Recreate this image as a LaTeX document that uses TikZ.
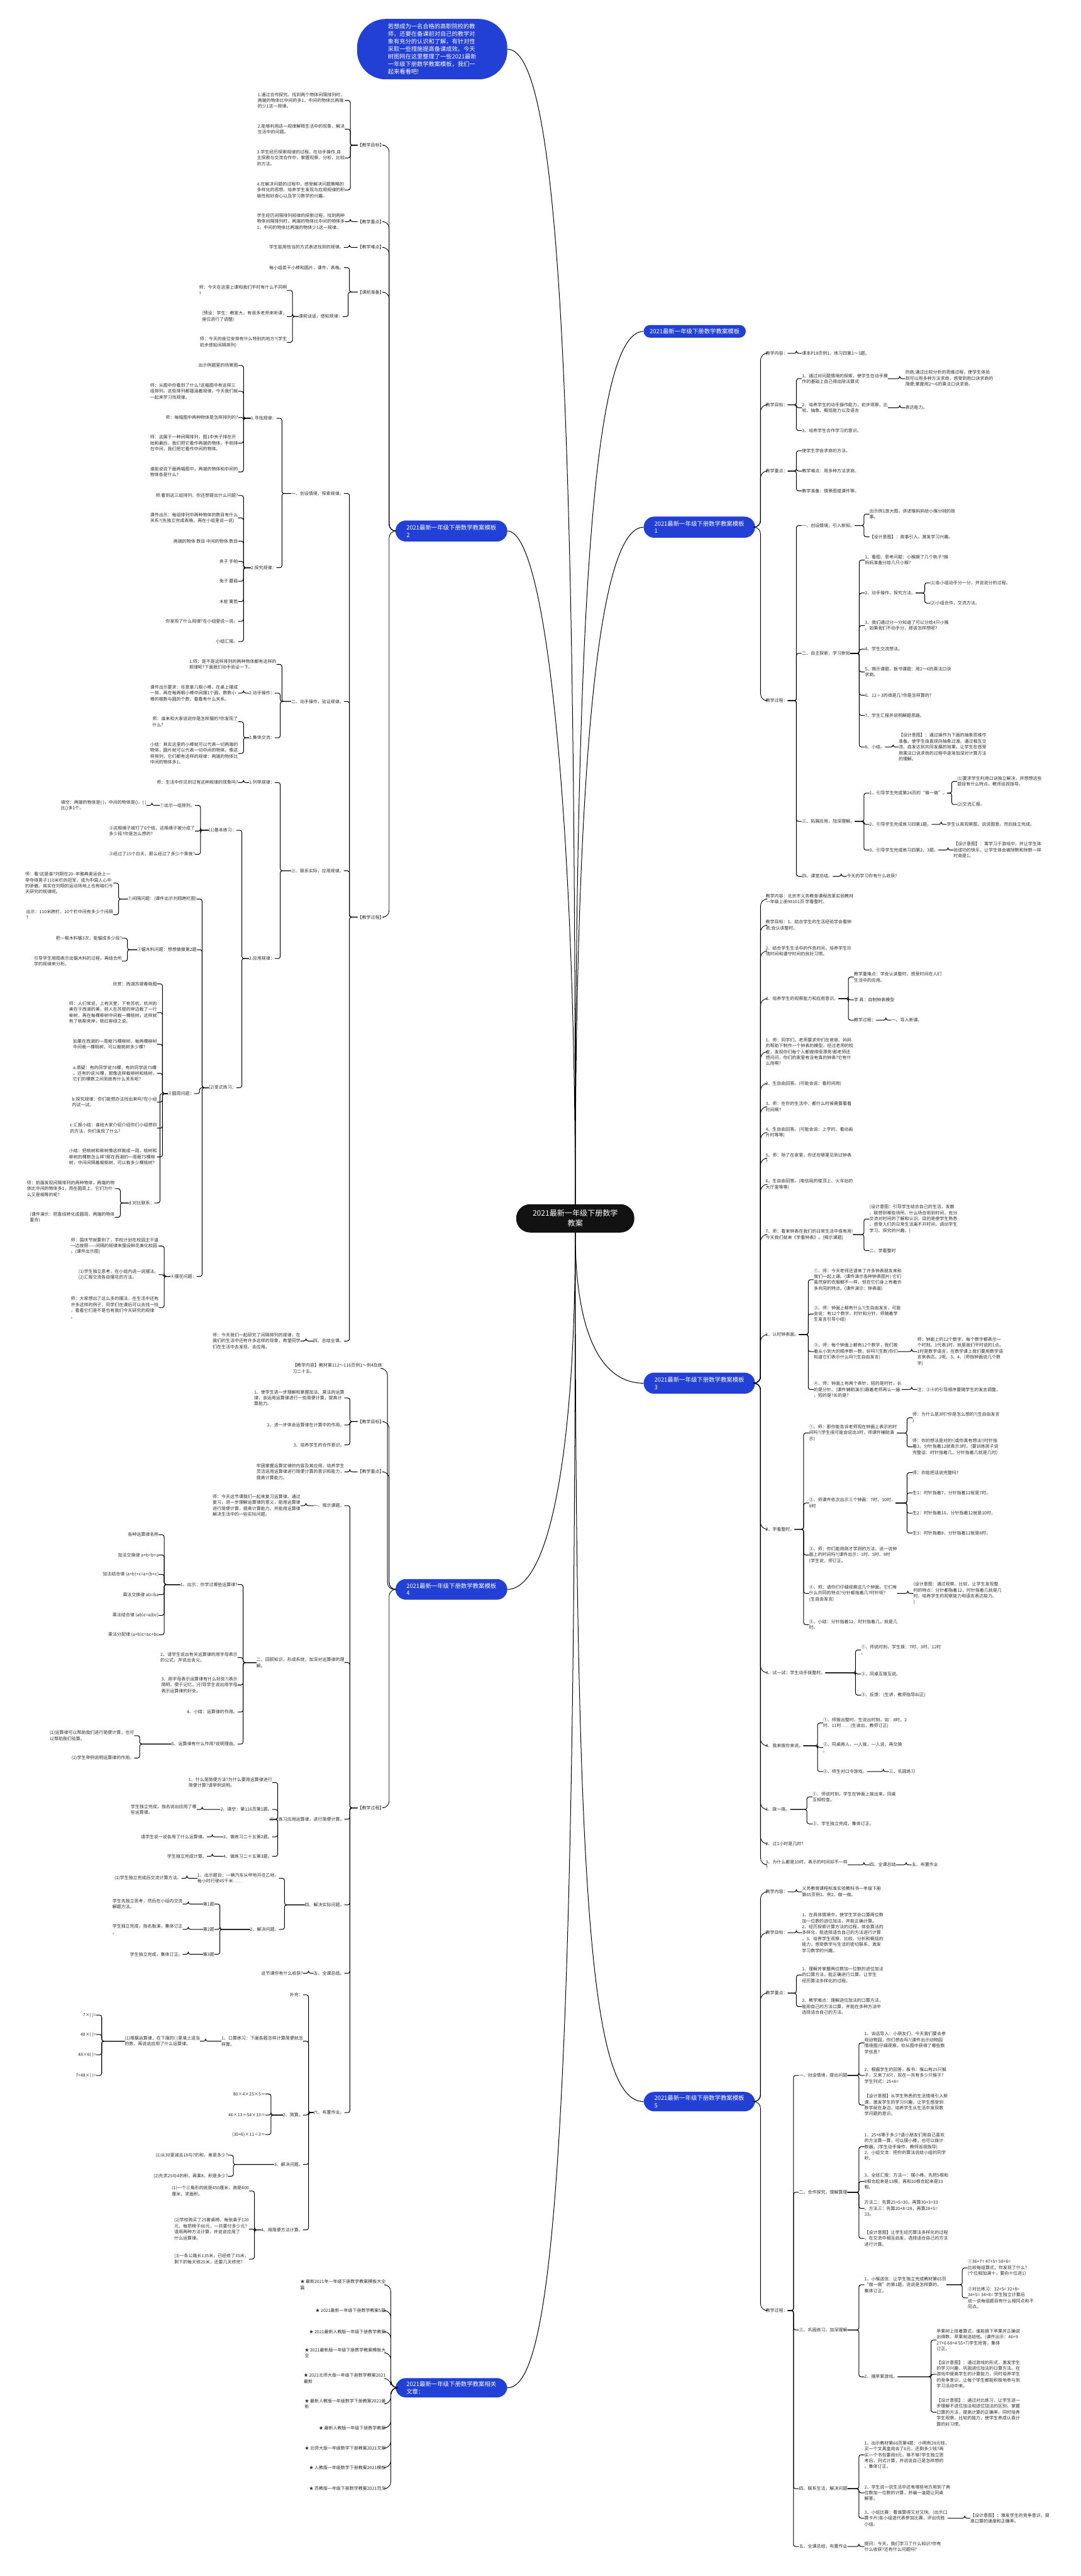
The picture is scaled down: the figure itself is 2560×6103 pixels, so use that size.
\documentclass[tikz,border=0pt]{standalone}
\usepackage{fontspec}
\setmainfont{Noto Sans CJK SC}
\usetikzlibrary{calc}
\definecolor{brblue}{HTML}{2340D6}
\definecolor{txt}{HTML}{2B2B2B}
% bracket links: parent -> child, right side and left side
\newcommand\linkR[2]{\draw[br] (#1.east) -| ([xshift=-13pt]#2.west) -- (#2.west);}
\newcommand\linkL[2]{\draw[br] (#1.west) -| ([xshift=13pt]#2.east) -- (#2.east);}
\newcommand\curveR[2]{\draw[cv] (#1.east) -| ([xshift=-12pt]#2.west) -- (#2.west);}
\newcommand\curveL[2]{\draw[cv] (#1.west) -| ([xshift=12pt]#2.east) -- (#2.east);}

\begin{document}
\begin{tikzpicture}[x=1pt,y=-1pt,
  lf/.style={font=\fontsize{10.4}{14}\selectfont, text=txt, align=left, inner sep=0pt},
  br/.style={line width=1.5pt, rounded corners=5pt},
  cv/.style={line width=1.3pt, rounded corners=16pt},
  trk/.style={line width=1.5pt},
  topic/.style={fill=brblue, text=white, font=\fontsize{14}{17}\selectfont, align=left, inner sep=0pt, rounded corners=#1},
  hub/.style={fill=black!93, text=white, font=\fontsize{18}{24}\selectfont, align=center, inner sep=0pt, rounded corners=33pt},
]
\fill[white] (0,0) rectangle (2560,6103);
\useasboundingbox (0,0) rectangle (2560,6103);

%%%%% main topics %%%%%
\node[hub, minimum width=280pt, minimum height=67pt] (hub) at (1363,2886.5) {2021最新一年级下册数学\\教案};

\node[topic=68pt, minimum width=356pt, minimum height=143pt, font=\fontsize{13.8}{18}\selectfont] (intro) at (1024,116.5)
  {若想成为一名合格的高职院校的教\\师，还要在备课前对自己的教学对\\象有充分的认识和了解，有针对性\\采取一些措施提高备课成效。今天\\树图网在这里整理了一些2021最新\\一年级下册数学教案模板，我们一\\起来看看吧!};
\node[topic=15pt, minimum width=242pt, minimum height=30pt] (b0) at (1646,785) {2021最新一年级下册数学教案模板};
\node[topic=25pt, minimum width=264pt, minimum height=50pt] (b1) at (1657,1249) {2021最新一年级下册数学教案模板\\1};
\node[topic=25pt, minimum width=265pt, minimum height=50pt] (b2) at (1069.5,1258) {2021最新一年级下册数学教案模板\\2};
\node[topic=25pt, minimum width=264pt, minimum height=50pt] (b3) at (1657,3277) {2021最新一年级下册数学教案模板\\3};
\node[topic=25pt, minimum width=265pt, minimum height=49pt] (b4) at (1069.5,3765.5) {2021最新一年级下册数学教案模板\\4};
\node[topic=25pt, minimum width=264pt, minimum height=46pt] (b5) at (1657,4979) {2021最新一年级下册数学教案模板\\5};
\node[topic=25pt, minimum width=265pt, minimum height=46pt] (b6) at (1069.5,5657) {2021最新一年级下册数学教案相关\\文章：};

\draw[trk] (hub.north) .. controls (1363,1000) and (1330,116.5) .. (intro.east);
\draw[trk] (hub.north) .. controls (1363,1500) and (1400,785) .. (b0.west);
\draw[trk] (hub.north) .. controls (1363,2000) and (1400,1249) .. (b1.west);
\draw[trk] (hub.north) .. controls (1363,2000) and (1300,1258) .. (b2.east);
\draw[trk] (hub.south) .. controls (1363,3150) and (1420,3277) .. (b3.west);
\draw[trk] (hub.south) .. controls (1363,3450) and (1300,3765) .. (b4.east);
\draw[trk] (hub.south) .. controls (1363,4500) and (1400,4979) .. (b5.west);
\draw[trk] (hub.south) .. controls (1363,5200) and (1300,5657) .. (b6.east);

%%%%% topic 2 (left) %%%%%
\node[lf, anchor=east] (l1) at (910,344) {【教学目标】};
\node[lf, anchor=east] (l2) at (910,525) {【教学重点】};
\node[lf, anchor=east] (l3) at (910,586) {【教学难点】};
\node[lf, anchor=east] (l4) at (910,692) {【课前准备】};
\node[lf, anchor=east] (l5) at (910,2173) {【教学过程】};
\foreach \c in {l1,l2,l3,l4,l5} {\curveL{b2}{\c}}

\node[lf, anchor=east] (l1a) at (817,238) {1.通过合作探究。找到两个物体间隔排列时，\\两端的物体比中间的多1，中间的物体比两端\\的少1这一规律。};
\node[lf, anchor=east] (l1b) at (817,306) {2.能够利用这一规律解释生活中的现象，解决\\生活中的问题。};
\node[lf, anchor=east] (l1c) at (817,374) {3.学生经历探索规律的过程。在动手操作,自\\主探索与交流合作中，掌握观察、分析、比较\\的方法。};
\node[lf, anchor=east] (l1d) at (817,450) {4.在解决问题的过程中，感受解决问题策略的\\多样化的思想。培养学生发现与应用规律的积\\极性和好奇心以及学习数学的兴趣。};
\foreach \c in {l1a,l1b,l1c,l1d} {\linkL{l1}{\c}}
\node[lf, anchor=east] (l2a) at (817,525) {学生经历间隔排列规律的探索过程，找到两种\\物体间隔排列时，两端的物体比中间的物体多\\1，中间的物体比两端的物体少1这一规律。};
\linkL{l2}{l2a}
\node[lf, anchor=east] (l3a) at (815,586) {学生能用恰当的方式表述找到的规律。};
\linkL{l3}{l3a}
\node[lf, anchor=east] (l4a) at (815,634) {每小组若干小棒和圆片，课件，表格。};
\node[lf, anchor=east] (l4b) at (812,750) {课前谈话，感知规律：};
\foreach \c in {l4a,l4b} {\linkL{l4}{\c}}
\node[lf, anchor=east] (l4b1) at (680,688) {师：今天在这里上课和我们平时有什么不同啊\\?};
\node[lf, anchor=east] (l4b2) at (680,750) {(预设：学生：教室大，有很多老师来听课，\\座位进行了调整)};
\node[lf, anchor=east] (l4b3) at (680,811) {师：今天的座位安排有什么特别的地方?(学生\\初步感知间隔排列)};
\foreach \c in {l4b1,l4b2,l4b3} {\linkL{l4b}{\c}}

% teaching process
\node[lf, anchor=east] (p1) at (815,1169) {一、创设情境，探索规律。};
\node[lf, anchor=east] (p2) at (815,1662) {二、动手操作，验证规律。};
\node[lf, anchor=east] (p3) at (815,2063) {三、联系实际，应用规律。};
\node[lf, anchor=east] (p4) at (815,3177) {四、总结全课。};
\foreach \c in {p1,p2,p3,p4} {\linkL{l5}{\c}}

\node[lf, anchor=east] (p1a) at (655,991) {1.寻找规律：};
\node[lf, anchor=east] (p1b) at (655,1345) {2.探究规律：};
\foreach \c in {p1a,p1b} {\linkL{p1}{\c}}
\node[lf, anchor=east] (p1a1) at (564,866) {出示例题里的场景图};
\node[lf, anchor=east] (p1a2) at (564,927) {师：从图中你看到了什么?这幅图中有这样三\\组排列。这些排列都蕴涵着规律，今天我们就\\一起来学习找规律。};
\node[lf, anchor=east] (p1a3) at (564,989) {师：每幅图中两种物体是怎样排列的?};
\node[lf, anchor=east] (p1a4) at (564,1050) {师：这属于一种间隔排列，图1中夹子排在开\\始和最后，我们把它看作两端的物体，手帕排\\在中间，我们把它看作中间的物体。};
\node[lf, anchor=east] (p1a5) at (564,1118) {谁能说说下面两幅图中，两端的物体和中间的\\物体各是什么?};
\foreach \c in {p1a1,p1a2,p1a3,p1a4,p1a5} {\linkL{p1a}{\c}}
\node[lf, anchor=east] (p1b1) at (564,1174) {师:看到这三组排列，你还想提出什么问题?};
\node[lf, anchor=east] (p1b2) at (564,1227) {课件出示：每组排列中两种物体的数目有什么\\关系?(先独立完成表格，再在小组里说一说)};
\node[lf, anchor=east] (p1b3) at (564,1282) {两端的物体 数目 中间的物体 数目};
\node[lf, anchor=east] (p1b4) at (564,1330) {夹子 手帕};
\node[lf, anchor=east] (p1b5) at (564,1377) {兔子 蘑菇};
\node[lf, anchor=east] (p1b6) at (564,1425) {木桩 篱笆};
\node[lf, anchor=east] (p1b7) at (564,1472) {你发现了什么规律?在小组里说一说。};
\node[lf, anchor=east] (p1b8) at (564,1520) {小组汇报。};
\foreach \c in {p1b1,p1b2,p1b3,p1b4,p1b5,p1b6,p1b7,p1b8} {\linkL{p1b}{\c}}

\node[lf, anchor=east] (p2a) at (655,1574) {1.师：是不是这样排列的两种物体都有这样的\\规律呢?下面我们动手验证一下。};
\node[lf, anchor=east] (p2b) at (651,1642) {2.动手操作：};
\node[lf, anchor=east] (p2c) at (651,1748) {3.集体交流：};
\foreach \c in {p2a,p2b,p2c} {\linkL{p2}{\c}}
\node[lf, anchor=east] (p2b1) at (564,1642) {课件出示要求：任意拿几根小棒，在桌上摆成\\一排，再在每两根小棒中间摆1个圆，数数小\\棒的根数与圆的个数，看看有什么关系。};
\linkL{p2b}{p2b1}
\node[lf, anchor=east] (p2c1) at (564,1710) {师：谁来和大家说说你是怎样摆的?你发现了\\什么?};
\node[lf, anchor=east] (p2c2) at (564,1785) {小结：其实这里的小棒就可以代表一切两端的\\物体，圆片就可以代表一切中间的物体。像这\\样排列，它们都有这样的规律：两端的物体比\\中间的物体多1。};
\foreach \c in {p2c1,p2c2} {\linkL{p2c}{\c}}

\node[lf, anchor=east] (p3a) at (651,1854) {1.列举规律：};
\node[lf, anchor=east] (p3b) at (651,2271) {2.应用规律：};
\foreach \c in {p3a,p3b} {\linkL{p3}{\c}}
\node[lf, anchor=east] (p3a1) at (564,1854) {师：生活中你见到过有这种规律的现象吗?};
\linkL{p3a}{p3a1}
\node[lf, anchor=east] (q0) at (560,1967) {(1)基本练习：};
\node[lf, anchor=east] (r0) at (560,2577) {(2)变式练习：};
\foreach \c in {q0,r0} {\linkL{p3b}{\c}}
\node[lf, anchor=east] (q1) at (462,1908) {①出示一组排列。};
\node[lf, anchor=east] (q2) at (462,1969) {②这根绳子被打了6个结，这根绳子被分成了\\多少段?你是怎么想的?};
\node[lf, anchor=east] (q3) at (462,2024) {③经过了15个白天，那么经过了多少个黑夜?};
\foreach \c in {q1,q2,q3} {\linkL{q0}{\c}}
\node[lf, anchor=east] (q1a) at (347,1908) {填空：两端的物体是( )，中间的物体是()，( )\\比()多1个。};
\linkL{q1}{q1a}

\node[lf, anchor=east] (r1) at (466,2130) {①间隔问题：(课件出示刘翔跨栏图)};
\node[lf, anchor=east] (r2) at (466,2250) {②锯木料问题：想想做做第2题};
\node[lf, anchor=east] (r3) at (460,2591) {③圆周问题：};
\node[lf, anchor=east] (r4) at (466,3024) {④摆花问题：};
\foreach \c in {r1,r2,r3,r4} {\linkL{r0}{\c}}
\node[lf, anchor=east] (r1a) at (268,2092) {师：看!这是谁?刘翔在20--年雅典奥运会上一\\举夺得男子110米栏的冠军，成为中国人心中\\的骄傲。其实在刘翔的运动场地上也有咱们今\\天研究的规律呢。};
\node[lf, anchor=east] (r1b) at (268,2167) {出示：110米跨栏，10个栏中间有多少个间隔\\?};
\foreach \c in {r1a,r1b} {\linkL{r1}{\c}}
\node[lf, anchor=east] (r2a) at (289,2223) {把一根木料锯3次，能锯成多少段?};
\node[lf, anchor=east] (r2b) at (289,2277) {引导学生用图表示出锯木料的过程，再结合所\\学的规律来分析。};
\foreach \c in {r2a,r2b} {\linkL{r2}{\c}}
\node[lf, anchor=east] (r3a) at (372,2331) {欣赏：西湖苏堤春晓图};
\node[lf, anchor=east] (r3b) at (372,2399) {师：人们常说，上有天堂，下有苏杭，杭州的\\美在于西湖的美，前人在苏堤的岸边栽了一行\\柳树，再在每棵柳树中间栽一棵桃树，这样就\\有了桃柳夹岸，桃红柳绿之说。};
\node[lf, anchor=east] (r3c) at (372,2474) {如果在西湖的一周栽75棵柳树，每两棵柳树\\中间栽一棵桃树，可以栽桃树多少棵?};
\node[lf, anchor=east] (r3d) at (372,2543) {a:质疑：有的同学说74棵，有的同学说75棵\\，还有的说76棵，那像这样栽柳树和桃树，\\它们的棵数之间到底有什么关系呢?};
\node[lf, anchor=east] (r3e) at (372,2611) {b:探究规律：你们能想办法找出来吗?在小组\\内试一试。};
\node[lf, anchor=east] (r3f) at (372,2673) {c:汇报小结：谁给大家介绍介绍你们小组想到\\的方法，你们发现了什么?};
\node[lf, anchor=east] (r3g) at (372,2741) {小结：把桃树和柳树像这样栽成一周，桃树和\\柳树的棵数怎么样?那在西湖的一周栽75棵柳\\树，中间间隔着栽桃树，可以栽多少棵桃树?};
\node[lf, anchor=east] (r3h) at (366,2850) {d:对比联系：};
\foreach \c in {r3a,r3b,r3c,r3d,r3e,r3f,r3g,r3h} {\linkL{r3}{\c}}
\node[lf, anchor=east] (r3h1) at (272,2816) {师：前面发现间隔排列的两种物体，两端的物\\体比中间的物体多1，而在圆周上，它们为什\\么又是相等的呢?};
\node[lf, anchor=east] (r3h2) at (272,2884) {(课件演示：把直线转化成圆周，两端的物体\\重合)};
\foreach \c in {r3h1,r3h2} {\linkL{r3h}{\c}}
\node[lf, anchor=east] (r4a) at (376,2952) {师：国庆节就要到了，学校计划在校园主干道\\一边按照——间隔的规律来摆设鲜花美化校园\\。(课件出示图)};
\node[lf, anchor=east] (r4b) at (376,3020) {(1)学生独立思考，在小组内说一说摆法。\\(2)汇报交流各自摆花的方法。};
\node[lf, anchor=east] (r4c) at (376,3098) {师：大家想出了这么多的摆法，在生活中还有\\许多这样的例子，同学们在课后可以去找一找\\，看看它们是不是也有我们今天研究的规律\\。};
\foreach \c in {r4a,r4b,r4c} {\linkL{r4}{\c}}
\node[lf, anchor=east] (p4a) at (712,3177) {师：今天我们一起研究了间隔排列的规律，在\\我们的生活中还有许多这样的现象，希望同学\\们在生活中去发现、去应用。};
\linkL{p4}{p4a}

%%%%% topic 1 (right) %%%%%
\node[lf, anchor=west] (m1) at (1814,837) {教学内容：};
\node[lf, anchor=west] (m2) at (1814,959) {教学目标：};
\node[lf, anchor=west] (m3) at (1814,1116) {教学重点：};
\node[lf, anchor=west] (m4) at (1814,1660) {教学过程：};
\foreach \c in {m1,m2,m3,m4} {\curveR{b1}{\c}}
\node[lf, anchor=west] (m1a) at (1900,837) {课本P18页例1，练习四第1～3题。};
\linkR{m1}{m1a}
\node[lf, anchor=west] (m2a) at (1900,897) {1、通过对问题情境的探索，使学生在动手摸\\作的基础上自己得出除法算式};
\node[lf, anchor=west] (m2b) at (1900,966) {2、培养学生的动手操作能力，初步观察、比\\较、抽象、概括能力以及语言};
\node[lf, anchor=west] (m2c) at (1900,1020) {3、培养学生合作学习的意识。};
\foreach \c in {m2a,m2b,m2c} {\linkR{m2}{\c}}
\node[lf, anchor=west] (m2a1) at (2145,897) {的商;通过比较分析的思维过程，使学生体验\\到可以用多种方法求商，感受到用口诀求商的\\简便;掌握用2～6的乘法口诀求商。};
\linkR{m2a}{m2a1}
\node[lf, anchor=west] (m2b1) at (2145,966) {表达能力。};
\linkR{m2b}{m2b1}
\node[lf, anchor=west] (m3a) at (1900,1068) {使学生学会求商的方法。};
\node[lf, anchor=west] (m3b) at (1900,1116) {教学难点：用多种方法求商。};
\node[lf, anchor=west] (m3c) at (1900,1163) {教学准备：情景图或课件等。};
\foreach \c in {m3a,m3b,m3c} {\linkR{m3}{\c}}

\node[lf, anchor=west] (s1) at (1900,1245) {一、创设情境，引入新知。};
\node[lf, anchor=west] (s2) at (1900,1548) {二、自主探索，学习新知};
\node[lf, anchor=west] (s3) at (1900,1946) {三、拓展应用，加深理解。};
\node[lf, anchor=west] (s4) at (1900,2076) {四、课堂总结。};
\foreach \c in {s1,s2,s3,s4} {\linkR{m4}{\c}}
\node[lf, anchor=west] (s1a) at (2060,1218) {出示例1放大图，讲述猴妈妈给小猴分桃的故\\事。};
\node[lf, anchor=west] (s1b) at (2060,1272) {【设计意图】：故事引入，激发学习兴趣。};
\foreach \c in {s1a,s1b} {\linkR{s1}{\c}}
\node[lf, anchor=west] (s2a) at (2049,1327) {1、看图，思考问题：小猴摘了几个桃子?猴\\妈妈准备分给几只小猴?};
\node[lf, anchor=west] (s2b) at (2049,1405) {2、动手操作，探究方法。};
\node[lf, anchor=west] (s2c) at (2049,1482) {3、我们通过分一分知道了可以分给4只小猴\\。如果我们不动手分，那该怎样想呢?};
\node[lf, anchor=west] (s2d) at (2049,1538) {4、学生交流想法。};
\node[lf, anchor=west] (s2e) at (2049,1592) {5、揭示课题，板书课题：用2～6的乘法口诀\\求商。};
\node[lf, anchor=west] (s2f) at (2049,1647) {6、12÷3的商是几?你是怎样算的?};
\node[lf, anchor=west] (s2g) at (2049,1695) {7、学生汇报并说明解题思路。};
\node[lf, anchor=west] (s2h) at (2049,1770) {8、小结。};
\foreach \c in {s2a,s2b,s2c,s2d,s2e,s2f,s2g,s2h} {\linkR{s2}{\c}}
\node[lf, anchor=west] (s2b1) at (2204,1381) {(1)各小组动手分一分，并说说分的过程。};
\node[lf, anchor=west] (s2b2) at (2204,1429) {(2)小组合作，交流方法。};
\foreach \c in {s2b1,s2b2} {\linkR{s2b}{\c}}
\node[lf, anchor=west] (s2h1) at (2129,1770) {【设计意图】：通过操作为下面的抽象思维作\\准备。使学生由直观向抽象过渡。通过相互交\\流、启发达到共同发展的效果。让学生在感受\\用乘法口诀求商的过程中逐渐加深对计算方法\\的理解。};
\linkR{s2h}{s2h1}
\node[lf, anchor=west] (s3a) at (2060,1879) {1、引导学生完成第24页的“做一做”。};
\node[lf, anchor=west] (s3b) at (2060,1953) {2、引导学生完成练习四第1题。};
\node[lf, anchor=west] (s3c) at (2060,2014) {3、引导学生完成练习四第2、3题。};
\foreach \c in {s3a,s3b,s3c} {\linkR{s3}{\c}}
\node[lf, anchor=west] (s3a1) at (2268,1851) {(1)要求学生利用口诀独立解决，并想想这些\\题目有什么特点。教师巡视指导。};
\node[lf, anchor=west] (s3a2) at (2268,1906) {(2)交流汇报。};
\foreach \c in {s3a1,s3a2} {\linkR{s3a}{\c}}
\node[lf, anchor=west] (s3b1) at (2243,1953) {学生认真观察图，说说图意。然后独立完成。};
\linkR{s3b}{s3b1}
\node[lf, anchor=west] (s3c1) at (2259,2014) {【设计意图】：寓学习于游戏中，并让学生体\\验成功的快乐，让学生体会被除数和除数一样\\时商是1。};
\linkR{s3c}{s3c1}
\node[lf, anchor=west] (s4a) at (2006,2076) {今天的学习你有什么收获?};
\linkR{s4}{s4a}

%%%%% topic 3 (right) %%%%%
\node[lf, anchor=west] (n1) at (1814,2130) {教学内容：北京市义务教育课程改革实验教材\\一年级上册98101页 学看整时。};
\node[lf, anchor=west] (n2) at (1814,2192) {教学目标：1、结合学生的生活经验学会看钟\\表;会认读整时。};
\node[lf, anchor=west] (n3) at (1814,2253) {2、结合学生生活中的作息时间，培养学生珍\\惜时间和遵守时间的良好习惯。};
\node[lf, anchor=west] (n4) at (1814,2366) {3、培养学生的观察能力和应用意识。};
\node[lf, anchor=west] (n5) at (1814,2492) {1、师：同学们，老师要求你们在爸爸、妈妈\\的帮助下制作一个钟表的模型。经过老师的检\\查，发现你们每个人都做得很漂亮!那老师还\\想问问，你们的家里有没有真的钟表?它有什\\么用啊?};
\node[lf, anchor=west] (n6) at (1814,2567) {2、生自由回答。(可能会说：看时间用)};
\node[lf, anchor=west] (n7) at (1814,2622) {3、师：在你的生活中，都什么时候需要看看\\时间啊?};
\node[lf, anchor=west] (n8) at (1814,2683) {4、生自由回答。(可能会说：上学时、看动画\\片时等等)};
\node[lf, anchor=west] (n9) at (1814,2744) {5、师：除了在家里，你还在哪里见到过钟表\\?};
\node[lf, anchor=west] (n10) at (1814,2806) {6、生自由回答。(电信局的楼顶上、火车站的\\大厅里等等)};
\node[lf, anchor=west] (n11) at (1814,2925) {7、师：看来钟表在我们的日常生活中很有用!\\今天我们就来《学看钟表》。(揭示课题)};
\node[lf, anchor=west] (n12) at (1814,3162) {1、认时钟表面。};
\node[lf, anchor=west] (n13) at (1814,3623) {2、学看整时。};
\node[lf, anchor=west] (n14) at (1814,3963) {3、试一试：学生动手拨整时。};
\node[lf, anchor=west] (n15) at (1814,4136) {4、我来拨你来说。};
\node[lf, anchor=west] (n16) at (1814,4287) {1、拨一拨。};
\node[lf, anchor=west] (n17) at (1814,4368) {2、过1小时是几时?};
\node[lf, anchor=west] (n18) at (1814,4418) {3、为什么都是10时，表示的时间却不一样\\?};
\foreach \c in {n1,n2,n3,n4,n5,n6,n7,n8,n9,n10,n11,n12,n13,n14,n15,n16,n17,n18} {\curveR{b3}{\c}}
\node[lf, anchor=west] (n4a) at (2023,2315) {教学重难点：学会认读整时，感受时间在人们\\生活中的应用。};
\node[lf, anchor=west] (n4b) at (2023,2369) {学 具：自制钟表模型};
\node[lf, anchor=west] (n4c) at (2023,2417) {教学过程：};
\foreach \c in {n4a,n4b,n4c} {\linkR{n4}{\c}}
\node[lf, anchor=west] (n4c1) at (2112,2417) {一、导入新课。};
\linkR{n4c}{n4c1}
\node[lf, anchor=west] (n11a) at (2060,2888) {(设计意图：引导学生结合自己的生活，发散\\、联想到哪些场所、什么场合用到时间，充分\\交流对时间的了解和认识。目的是使学生熟悉\\、感受人们的日常生活离不开时间，调动学生\\学习、探究的兴趣。)};
\node[lf, anchor=west] (n11b) at (2060,2963) {二、学看整时};
\foreach \c in {n11a,n11b} {\linkR{n11}{\c}}
\node[lf, anchor=west] (n12a) at (1928,3032) {①、师：今天老师还请来了许多钟表朋友来和\\我们一起上课。(课件演示各种钟表图片) 它们\\虽然穿的衣服都不一样，但在它们身上有着许\\多共同的特点。(课件演示：钟表面)};
\node[lf, anchor=west] (n12b) at (1928,3113) {②、师：钟面上都有什么?(生自由发言，可能\\会说：有12个数字、时针和分针，师随着学\\生发言引导小结)};
\node[lf, anchor=west] (n12c) at (1928,3202) {③、师：每个钟面上都有12个数字，我们按\\着从小到大的顺序数一数，好吗?(生数)你们\\知道它们表示什么吗?(生自由发言)};
\node[lf, anchor=west] (n12d) at (1928,3292) {④、师：钟面上有两个表针，短的是时针，长\\的是分针。(课件辅助演示)跟着老师再认一遍\\，短的是?长的是?};
\foreach \c in {n12a,n12b,n12c,n12d} {\linkR{n12}{\c}}
\node[lf, anchor=west] (n12c1) at (2173,3202) {师：钟面上的12个数字，每个数字都表示一\\个时刻。1代表1时，就是我们平时说的1点。\\1时是数学语言，在数学课上我们要用数学语\\言来表达。2呢、3、4、(师指钟面说几个数\\字)};
\linkR{n12c}{n12c1}
\node[lf, anchor=west] (n12d1) at (2173,3292) {注：③④的引导顺序要随学生的发言调整。};
\linkR{n12d}{n12d1}
\node[lf, anchor=west] (k1) at (1917,3395) {①、师：那你能告诉老师现在钟面上表示的时\\间吗?(学生很可能会说出3时，师课件辅助演\\示)};
\node[lf, anchor=west] (k2) at (1917,3561) {②、师课件依次出示三个钟面：7时、10时、\\8时};
\node[lf, anchor=west] (k3) at (1917,3684) {③、师：你们能用刚才学到的方法，说一说钟\\面上的时间吗?(课件出示：1时、5时、9时\\)学生说，师订正。};
\node[lf, anchor=west] (k4) at (1917,3775) {④、师：请你们仔细观察这几个钟面，它们有\\什么共同的特点?分针都指着几?时针呢?\\(生自由发言)};
\node[lf, anchor=west] (k5) at (1917,3849) {⑤、小结：分针指着12，时针指着几，就是几\\时。};
\foreach \c in {k1,k2,k3,k4,k5} {\linkR{n13}{\c}}
\node[lf, anchor=west] (k1a) at (2162,3359) {师：为什么是3时?你是怎么想的?(生自由发言\\)};
\node[lf, anchor=west] (k1b) at (2162,3428) {师：你的想法是对的!(或你真有想法!)时针指\\着3，分针指着12就表示3时。(要训练孩子说\\完整话：时针指着几，分针指着几就是几时)};
\foreach \c in {k1a,k1b} {\linkR{k1}{\c}}
\node[lf, anchor=west] (k2a) at (2162,3489) {师：你能把话说完整吗?};
\node[lf, anchor=west] (k2b) at (2162,3537) {生1：时针指着7，分针指着12就是7时。};
\node[lf, anchor=west] (k2c) at (2162,3585) {生2：时针指着10，分针指着12就是10时。};
\node[lf, anchor=west] (k2d) at (2162,3632) {生3：时针指着8，分针指着12就是8时。};
\foreach \c in {k2a,k2b,k2c,k2d} {\linkR{k2}{\c}}
\node[lf, anchor=west] (k4a) at (2164,3775) {(设计意图：通过观察、比较，让学生发现整\\时的特点：分针都指着12，时针指着几就是几\\时。培养学生的观察能力和语言表达能力。\\)};
\linkR{k4}{k4a}
\node[lf, anchor=west] (n14a) at (2040,3909) {①、师说时刻，学生拨：7时、3时、12时\\。};
\node[lf, anchor=west] (n14b) at (2040,3966) {②、同桌互拨互说。};
\node[lf, anchor=west] (n14c) at (2040,4016) {③、反馈：(生讲，教师指导纠正)};
\foreach \c in {n14a,n14b,n14c} {\linkR{n14}{\c}}
\node[lf, anchor=west] (n15a) at (1950,4082) {①、师拨出整时，生说出时刻。如：8时、2\\时、11时……(生读出，教师订正)};
\node[lf, anchor=west] (n15b) at (1950,4140) {②、同桌两人，一人拨，一人说，再交换\\。};
\node[lf, anchor=west] (n15c) at (1950,4197) {③、师生对口令游戏。};
\foreach \c in {n15a,n15b,n15c} {\linkR{n15}{\c}}
\node[lf, anchor=west] (n15c1) at (2106,4197) {三、巩固练习};
\linkR{n15c}{n15c1}
\node[lf, anchor=west] (n16a) at (1925,4257) {①、师说时刻，学生在钟面上拨出来，同桌\\互相检查。};
\node[lf, anchor=west] (n16b) at (1925,4321) {②、学生独立完成，集体订正。};
\foreach \c in {n16a,n16b} {\linkR{n16}{\c}}
\node[lf, anchor=west] (n18a) at (2060,4418) {四、全课总结};
\linkR{n18}{n18a}
\node[lf, anchor=west] (n18b) at (2160,4418) {五、布置作业};
\linkR{n18a}{n18b}

%%%%% topic 4 (left) %%%%%
\node[lf, anchor=east] (v1) at (906,3242) {【教学内容】教材第112～116页例1～例4及练\\习二十五。};
\node[lf, anchor=east] (v2) at (910,3368) {【教学目标】};
\node[lf, anchor=east] (v3) at (910,3487) {【教学重点】};
\node[lf, anchor=east] (v4) at (910,4283) {【教学过程】};
\foreach \c in {v1,v2,v3,v4} {\curveL{b4}{\c}}
\node[lf, anchor=east] (v2a) at (816,3312) {1、使学生进一步理解和掌握加法、乘法的运算\\律，会运用运算律进行一些简便计算，提高计\\算能力。};
\node[lf, anchor=east] (v2b) at (816,3376) {2、进一步体会运算律在计算中的作用。};
\node[lf, anchor=east] (v2c) at (816,3423) {3、培养学生的合作意识。};
\foreach \c in {v2a,v2b,v2c} {\linkL{v2}{\c}}
\node[lf, anchor=east] (v3a) at (816,3487) {牢固掌握运算定律的内容及其应用，培养学生\\灵活运用运算律进行简便计算的意识和能力，\\提高计算能力。};
\linkL{v3}{v3a}

\node[lf, anchor=east] (u1) at (816,3567) {一、揭示课题。};
\node[lf, anchor=east] (u2) at (816,3939) {二、回顾知识，形成系统，加深对运算律的理\\解。};
\node[lf, anchor=east] (u3) at (816,4310) {三、练习应用运算律，进行简便计算。};
\node[lf, anchor=east] (u4) at (816,4513) {四、解决实际问题。};
\node[lf, anchor=east] (u5) at (816,4675) {五、全课总结。};
\node[lf, anchor=east] (u6) at (816,5005) {六、布置作业。};
\foreach \c in {u1,u2,u3,u4,u5,u6} {\linkL{v4}{\c}}
\node[lf, anchor=east] (u1a) at (712,3567) {师：今天这节课我们一起来复习运算律。通过\\复习，进一步理解运算律的意义，能用运算律\\进行简便计算，提高计算能力，并能用运算律\\解决生活中的一些实际问题。};
\linkL{u1}{u1a}
\node[lf, anchor=east] (u2a) at (563,3754) {1、出示：你学过哪些运算律?};
\node[lf, anchor=east] (u2b) at (563,3927) {2、请学生说出有关运算律的用字母表示\\的公式，并说出含义。};
\node[lf, anchor=east] (u2c) at (563,3992) {3、用字母表示运算律有什么好处?(表示\\简明，便于记忆。)引导学生说出用字母\\表示运算律的好处。};
\node[lf, anchor=east] (u2d) at (563,4056) {4、小结：运算律的作用。};
\node[lf, anchor=east] (u2e) at (563,4132) {5、运算律有什么作用?说明理由。};
\foreach \c in {u2a,u2b,u2c,u2d,u2e} {\linkL{u2}{\c}}
\node[lf, anchor=east] (w1) at (376,3636) {各种运算律名称};
\node[lf, anchor=east] (w2) at (376,3684) {加法交换律 a+b=b+a};
\node[lf, anchor=east] (w3) at (376,3730) {加法结合律 (a+b)+c=a+(b+c)};
\node[lf, anchor=east] (w4) at (376,3778) {乘法交换律 ab=ba};
\node[lf, anchor=east] (w5) at (376,3827) {乘法结合律 (ab)c=a(bc)};
\node[lf, anchor=east] (w6) at (376,3873) {乘法分配律 (a+b)c=ac+bc};
\foreach \c in {w1,w2,w3,w4,w5,w6} {\linkL{u2a}{\c}}
\node[lf, anchor=east] (u2e1) at (318,4112) {(1)运算律可以帮助我们进行简便计算，也可\\以帮助我们验算。};
\node[lf, anchor=east] (u2e2) at (318,4165) {(2)学生举例说明运算律的作用。};
\foreach \c in {u2e1,u2e2} {\linkL{u2e}{\c}}

\node[lf, anchor=east] (u3a) at (645,4223) {1、什么是简便方法?为什么要用运算律进行\\简便计算?请举例说明。};
\node[lf, anchor=east] (u3b) at (645,4287) {2、填空：第116页第1题。};
\node[lf, anchor=east] (u3c) at (645,4352) {3、做练习二十五第2题。};
\node[lf, anchor=east] (u3d) at (645,4398) {4、做练习二十五第3题。};
\foreach \c in {u3a,u3b,u3c,u3d} {\linkL{u3}{\c}}
\node[lf, anchor=east] (u3b1) at (466,4287) {学生独立完成，指名说出应用了哪\\些运算律。};
\linkL{u3b}{u3b1}
\node[lf, anchor=east] (u3c1) at (490,4352) {请学生说一说各用了什么运算律。};
\linkL{u3c}{u3c1}
\node[lf, anchor=east] (u3d1) at (490,4398) {学生独立完成计算。};
\linkL{u3d}{u3d1}

\node[lf, anchor=east] (u4a) at (661,4450) {1、出示题目：一辆汽车从甲地开往乙地，\\每小时行驶45千米……};
\node[lf, anchor=east] (u4b) at (661,4571) {2、解决问题。};
\foreach \c in {u4a,u4b} {\linkL{u4}{\c}}
\node[lf, anchor=east] (u4a1) at (430,4450) {(1)学生独立完成后交流计算方法。};
\linkL{u4a}{u4a1}
\node[lf, anchor=east] (u4b1) at (508,4511) {第1题};
\node[lf, anchor=east] (u4b2) at (508,4571) {第2题};
\node[lf, anchor=east] (u4b3) at (508,4630) {第3题};
\foreach \c in {u4b1,u4b2,u4b3} {\linkL{u4b}{\c}}
\node[lf, anchor=east] (u4b1a) at (433,4511) {学生先独立思考，然后在小组内交流\\解题方法。};
\linkL{u4b1}{u4b1a}
\node[lf, anchor=east] (u4b2a) at (433,4571) {学生独立完成，指名板演，集体订正\\。};
\linkL{u4b2}{u4b2a}
\node[lf, anchor=east] (u4b3a) at (433,4630) {学生独立完成，集体订正。};
\linkL{u4b3}{u4b3a}
\node[lf, anchor=east] (u5a) at (718,4675) {这节课你有什么收获?};
\linkL{u5}{u5a}

\node[lf, anchor=east] (u6a) at (718,4726) {补充：};
\node[lf, anchor=east] (u6b) at (718,4836) {1、口算练习：下面各题怎样计算简便就怎\\样算。};
\node[lf, anchor=east] (u6c) at (718,5011) {2、简算。};
\node[lf, anchor=east] (u6d) at (718,5128) {3、解决问题。};
\node[lf, anchor=east] (u6e) at (718,5283) {4、用简便方法计算。};
\foreach \c in {u6a,u6b,u6c,u6d,u6e} {\linkL{u6}{\c}}
\node[lf, anchor=east] (x0) at (474,4836) {(1)根据运算律，在下面的(  )里填上适当\\的数，再说说应用了什么运算律。};
\linkL{u6b}{x0}
\node[lf, anchor=east] (x1) at (228,4774) {7×(  )=};
\node[lf, anchor=east] (x2) at (228,4820) {48×(  )=};
\node[lf, anchor=east] (x3) at (228,4868) {48×6(  )=};
\node[lf, anchor=east] (x4) at (228,4917) {7+48×(  )=};
\foreach \c in {x1,x2,x3,x4} {\linkL{x0}{\c}}
\node[lf, anchor=east] (u6c1) at (629,4961) {80×4×25×5＝};
\node[lf, anchor=east] (u6c2) at (629,5011) {46×13＋54×13＝};
\node[lf, anchor=east] (u6c3) at (629,5057) {(30+6)×11÷3＝};
\foreach \c in {u6c1,u6c2,u6c3} {\linkL{u6c}{\c}}
\node[lf, anchor=east] (u6d1) at (540,5106) {(1)从30里减去18与7的和，差是多少?};
\node[lf, anchor=east] (u6d2) at (540,5156) {(2)先求25与4的积，再乘8，积是多少?};
\foreach \c in {u6d1,u6d2} {\linkL{u6d}{\c}}
\node[lf, anchor=east] (u6e1) at (590,5191) {(1)一个三角形的底是450厘米，高是400\\厘米，求面积。};
\node[lf, anchor=east] (u6e2) at (590,5281) {(2)学校购买了25套桌椅，每张桌子120\\元，每把椅子80元，一共要付多少元?\\请用两种方法计算，并说说应用了\\什么运算律。};
\node[lf, anchor=east] (u6e3) at (590,5352) {(3)一条公路长135米，已经修了35米，\\剩下的每天修25米，还要几天修完?};
\foreach \c in {u6e1,u6e2,u6e3} {\linkL{u6e}{\c}}

%%%%% topic 5 (right) %%%%%
\node[lf, anchor=west] (y1) at (1814,4482) {教学内容：};
\node[lf, anchor=west] (y2) at (1814,4579) {教学目标：};
\node[lf, anchor=west] (y3) at (1814,4722) {教学重点：};
\node[lf, anchor=west] (y4) at (1814,5474) {教学过程：};
\foreach \c in {y1,y2,y3,y4} {\curveR{b5}{\c}}
\node[lf, anchor=west] (y1a) at (1900,4482) {义务教育课程标准实验教科书一年级下册\\第65页例1、例2，做一做。};
\linkR{y1}{y1a}
\node[lf, anchor=west] (y2a) at (1900,4579) {1、在具体情境中，使学生学会口算两位数\\加一位数的进位加法，并能正确计算。\\2、经历探索计算方法的过程，体会算法的\\多样化，能选择适合自己的方法进行计算\\。3、培养学生观察、比较、分析和概括的\\能力，感受数学与生活的密切联系，激发\\学习数学的兴趣。};
\linkR{y2}{y2a}
\node[lf, anchor=west] (y3a) at (1900,4679) {1、理解并掌握两位数加一位数的进位加法\\的口算方法，能正确进行口算。让学生\\经历算法多样化的过程。};
\node[lf, anchor=west] (y3b) at (1900,4754) {2、教学难点：理解进位加法的口算方法，\\能用自己的方法口算，并能在多种方法中\\选择适合自己的方法。};
\foreach \c in {y3a,y3b} {\linkR{y3}{\c}}

\node[lf, anchor=west] (z1) at (1893,4917) {一、创设情境，提出问题};
\node[lf, anchor=west] (z2) at (1893,5194) {二、合作探究，理解算理};
\node[lf, anchor=west] (z3) at (1893,5520) {三、巩固练习，加深理解};
\node[lf, anchor=west] (z4) at (1893,5896) {四、联系生活，解决问题};
\node[lf, anchor=west] (z5) at (1893,6033) {五、全课总结，布置作业};
\foreach \c in {z1,z2,z3,z4,z5} {\linkR{y4}{\c}}
\node[lf, anchor=west] (z1a) at (2048,4840) {1、谈话导入：小朋友们，今天我们要去参\\观动物园，你们想去吗?(课件出示动物园\\情境图)仔细观察，你从图中获得了哪些数\\学信息?};
\node[lf, anchor=west] (z1b) at (2048,4917) {2、根据学生的回答，板书：猴山有25只猴\\子，又来了8只，现在一共有多少只猴子?\\学生列式：25+8=};
\node[lf, anchor=west] (z1c) at (2048,4987) {【设计意图】从学生熟悉的生活情境引入新\\课，激发学生的学习兴趣，让学生感受到\\数学就在身边，培养学生从生活中发现数\\学问题的意识。};
\foreach \c in {z1a,z1b,z1c} {\linkR{z1}{\c}}
\node[lf, anchor=west] (z2a) at (2048,5086) {1、25+8等于多少?请小朋友们用自己喜欢\\的方法算一算，可以摆小棒，也可以拨计\\数器。(学生动手操作，教师巡视指导)\\2、小组交流：把你的算法说给小组的同学\\听。};
\node[lf, anchor=west] (z2b) at (2048,5168) {3、全班汇报：方法一：摆小棒。先把5根和\\8根合起来是13根，再和20根合起来是33\\根。};
\node[lf, anchor=west] (z2c) at (2048,5232) {方法二：先算25+5=30，再算30+3=33\\。方法三：先算20+8=28，再算28+5=\\33。};
\node[lf, anchor=west] (z2d) at (2048,5303) {【设计意图】让学生经历算法多样化的过程\\，在交流中相互启发，选择适合自己的方法\\进行计算。};
\foreach \c in {z2a,z2b,z2c,z2d} {\linkR{z2}{\c}}
\node[lf, anchor=west] (z3a) at (2048,5413) {1、小猴送信：让学生独立完成教材第65页\\“做一做”的第1题，说说是怎样算的。\\集体订正。};
\node[lf, anchor=west] (z3b) at (2048,5631) {2、摘苹果游戏。};
\foreach \c in {z3a,z3b} {\linkR{z3}{\c}}
\node[lf, anchor=west] (z3a1) at (2293,5373) {①36+7=  47+5=  58+6=\\比较每组算式，你发现了什么?\\(个位相加满十，要向十位进1)};
\node[lf, anchor=west] (z3a2) at (2293,5444) {②对比练习：32+5=  32+8=\\34+5=  34+8=  学生独立计算后\\说一说每组题目有什么相同点和不\\同点。};
\foreach \c in {z3a1,z3a2} {\linkR{z3a}{\c}}
\node[lf, anchor=west] (z3b1) at (2219,5544) {苹果树上挂着算式，谁能摘下苹果并正确说\\出得数，苹果就送给他。(课件出示：46+9\\  27+6  68+4  55+7)学生抢答，集体\\订正。};
\node[lf, anchor=west] (z3b2) at (2219,5625) {【设计意图】：通过游戏的形式，激发学生\\的学习兴趣，巩固进位加法的口算方法。在\\游戏中提高学生的计算能力，同时培养学生\\的竞争意识，让每个学生都能积极地参与到\\学习活动中来。};
\node[lf, anchor=west] (z3b3) at (2219,5715) {【设计意图】：通过对比练习，让学生进一\\步理解不进位加法和进位加法的区别，掌握\\口算的方法，提高计算的正确率。同时培养\\学生观察、比较的能力，使学生养成认真计\\算的好习惯。};
\foreach \c in {z3b1,z3b2,z3b3} {\linkR{z3b}{\c}}
\node[lf, anchor=west] (z4a) at (2048,5816) {1、出示教材第66页第4题：小明有28元钱，\\买一个文具盒用去了6元，还剩多少钱?再\\买一个书包要用9元，够不够?学生独立思\\考后，列式计算，并说说自己是怎样想的\\。集体订正。};
\node[lf, anchor=west] (z4b) at (2048,5906) {2、学生说一说生活中还有哪些地方用到了两\\位数加一位数的计算，并编一道题让同桌\\解答。};
\node[lf, anchor=west] (z4c) at (2048,5966) {3、小组比赛：看谁算得又对又快。(出示口\\算卡片)各小组选代表参加比赛，评出优胜\\小组。};
\foreach \c in {z4a,z4b,z4c} {\linkR{z4}{\c}}
\node[lf, anchor=west] (z4c1) at (2299,5966) {【设计意图】：激发学生的竞争意识，提\\高口算的速度和正确率。};
\linkR{z4c}{z4c1}
\node[lf, anchor=west] (z5a) at (2048,6033) {提问：今天，我们学习了什么知识?你有\\什么收获?还有什么问题吗?};
\linkR{z5}{z5a}

%%%%% related articles (left) %%%%%
\node[lf, anchor=east] (a1) at (914,5413) {★ 最新2021年一年级下册数学教案模板大全\\篇};
\node[lf, anchor=east] (a2) at (914,5474) {★ 2021最新一年级下册数学教案5篇};
\node[lf, anchor=east] (a3) at (914,5524) {★ 2021最新人教版一年级下册数学教案};
\node[lf, anchor=east] (a4) at (914,5574) {★ 2021最新版一年级下册数学教案模板大\\全};
\node[lf, anchor=east] (a5) at (914,5635) {★ 2021北师大版一年级下册数学教案2021\\最新};
\node[lf, anchor=east] (a6) at (914,5695) {★ 最新人教版一年级数学下册教案2021最\\新};
\node[lf, anchor=east] (a7) at (914,5752) {★ 最新人教版一年级下册数学教案};
\node[lf, anchor=east] (a8) at (914,5800) {★ 北师大版一年级数学下册教案2021文案};
\node[lf, anchor=east] (a9) at (914,5846) {★ 人教版一年级数学下册教案2021模板};
\node[lf, anchor=east] (a10) at (914,5896) {★ 苏教版一年级下册数学教案2021范文};
\foreach \c in {a1,a2,a3,a4,a5,a6,a7,a8,a9,a10} {\curveL{b6}{\c}}
\end{tikzpicture}
\end{document}
